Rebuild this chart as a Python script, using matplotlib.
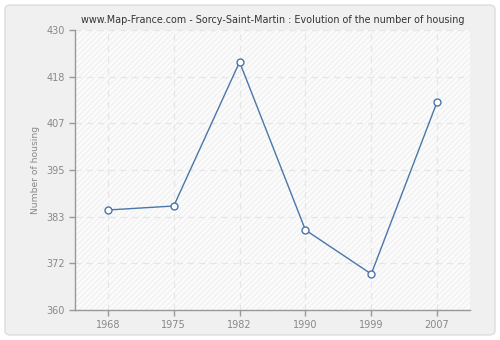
import numpy as np
import matplotlib
matplotlib.use('Agg')
import matplotlib.pyplot as plt
from matplotlib.patches import FancyBboxPatch, Rectangle

years = ['1968', '1975', '1982', '1990', '1999', '2007']
housing = [385, 386, 422, 380, 369, 412]
y_ticks = [360 + k * 70 / 6 for k in range(7)]
y_labels = ['360', '372', '383', '395', '407', '418', '430']

plt.rcParams['hatch.linewidth'] = 0.6

fig = plt.figure(figsize=(5, 3.4), dpi=100)
fig.patch.set_facecolor('white')

# rounded panel behind everything
panel = FancyBboxPatch((5 / 500, 5 / 340), 490 / 500, 330 / 340,
                       boxstyle='round,pad=0,rounding_size=0.012',
                       transform=fig.transFigure, facecolor='#f0f0f0',
                       edgecolor='#dddddd', linewidth=1, zorder=-10)
fig.patches.append(panel)

ax = fig.add_axes([75 / 500, 30 / 340, 395 / 500, 280 / 340])
ax.set_zorder(1)
ax.set_facecolor('#fbfbfb')
ax.add_patch(Rectangle((0, 0), 1, 1, transform=ax.transAxes, facecolor='none',
                       edgecolor='#ececec', hatch='//////', linewidth=0, zorder=0))

x = np.arange(len(years))
ax.plot(x, housing, color='#4a76a8', linewidth=1, marker='o', markersize=5,
        markerfacecolor='white', markeredgecolor='#4a76a8', markeredgewidth=1, zorder=3)

ax.set_xlim(-0.5, len(years) - 0.5)
ax.set_ylim(360, 430)
ax.set_xticks(x)
ax.set_xticklabels(years)
ax.set_yticks(y_ticks)
ax.set_yticklabels(y_labels)

ax.grid(True, color='#e6e6e6', linestyle=(0, (5, 4)), linewidth=0.9)
ax.set_axisbelow(True)

for side in ['top', 'right']:
    ax.spines[side].set_visible(False)
for side in ['left', 'bottom']:
    ax.spines[side].set_color('#999999')
    ax.spines[side].set_linewidth(1)

ax.tick_params(colors='#999999', labelcolor='#888888', labelsize=7, length=4, width=1)
ax.set_ylabel('Number of housing', color='#888888', fontsize=6.6)
ax.set_title('www.Map-France.com - Sorcy-Saint-Martin : Evolution of the number of housing',
             fontsize=6.9, color='#333333', pad=5)

fig.savefig('out.png', dpi=100, facecolor=fig.get_facecolor())
